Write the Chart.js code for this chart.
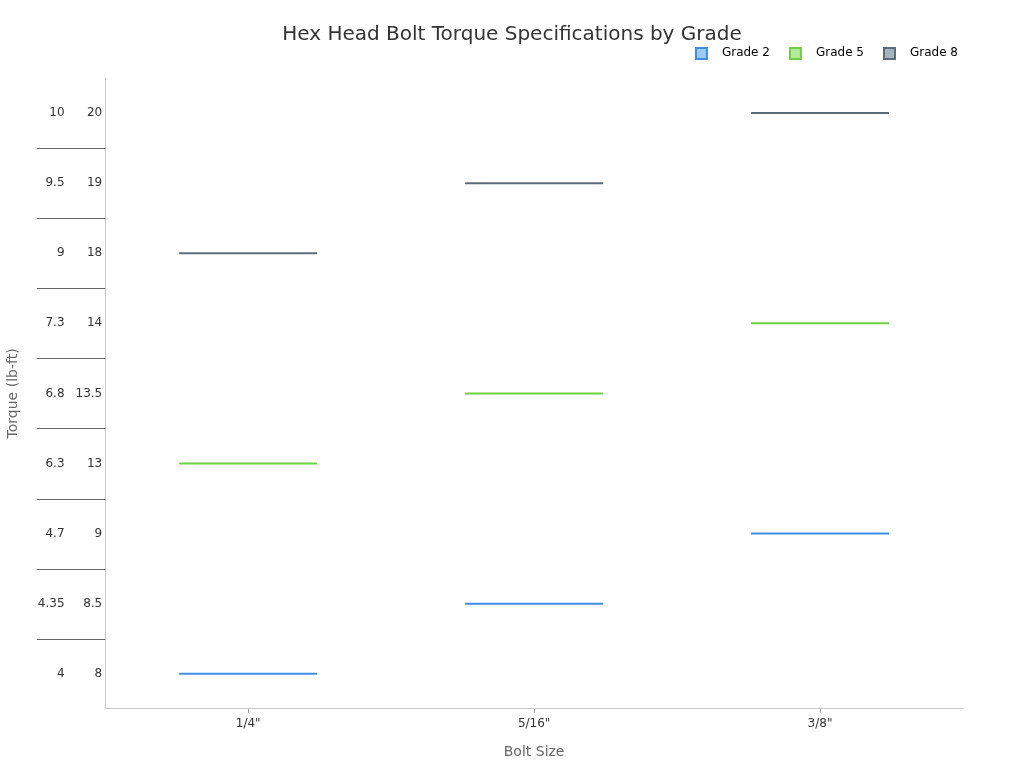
<!DOCTYPE html>
<html>
<head>
<meta charset="utf-8">
<script src="https://cdn.jsdelivr.net/npm/chart.js"></script>
<style>
  html, body { margin: 0; padding: 0; background: #fff; }
  #wrap { width: 1024px; height: 768px; }
</style>
</head>
<body>
<div id="wrap"><canvas id="chart"></canvas></div>
<script>
const boltSizes = ['1/4"', '5/16"', '3/8"'];
const gradeNames = ['Grade 2', 'Grade 5', 'Grade 8'];

// torque, lb-ft (inner column of the y axis)
const grade2 = [8, 8.5, 9];
const grade5 = [13, 13.5, 14];
const grade8 = [18, 19, 20];

// paired values shown in the outer column
const grade2Alt = [4, 4.35, 4.7];
const grade5Alt = [6.3, 6.8, 7.3];
const grade8Alt = [9, 9.5, 10];

const yLabels = [...grade2, ...grade5, ...grade8].map(String);
const yAltLabels = [...grade2Alt, ...grade5Alt, ...grade8Alt].map(String);

const lineColors = ['#3d8fe3', '#6fd13f', '#5b6b7a'];
const boxColors = ['#9ccbf6', '#b4e89c', '#a7b3bb'];

const series = [grade2, grade5, grade8];
const FONT = 'DejaVu Sans';

const datasets = series.map((vals, i) => ({
    label: gradeNames[i],
    data: vals.map((v, j) => ({ x: boltSizes[j], y: String(v) })),
    showLine: false,
    pointStyle: 'line',
    pointRadius: 69,
    pointHoverRadius: 69,
    borderColor: lineColors[i],
    backgroundColor: boxColors[i],
    pointBorderWidth: 2,
    pointHoverBorderWidth: 2
}));

// legend swatch: square with some blank room around it
function legendBox(fill, stroke) {
    const c = document.createElement('canvas');
    c.width = 35;
    c.height = 14;
    const g = c.getContext('2d');
    g.fillStyle = fill;
    g.strokeStyle = stroke;
    g.lineWidth = 2;
    g.fillRect(15, 2, 11, 11);
    g.strokeRect(15, 2, 11, 11);
    return c;
}

// short separator lines between the y categories
const separators = {
    id: 'separators',
    afterInit(chart) {
        // a bit more room under the legend
        const fit = chart.legend.fit;
        chart.legend.fit = function () {
            fit.call(this);
            this.height += 9;
        };
    },
    afterLayout(chart) {
        // title centred on the whole canvas
        chart.titleBlock.left = 0;
        chart.titleBlock.right = chart.width;
    },
    afterDraw(chart) {
        const y = chart.scales.y;
        const y2 = chart.scales.y2;
        const ctx = chart.ctx;
        ctx.save();
        ctx.font = '12px "' + FONT + '"';
        const widest = Math.max(...yAltLabels.map(t => ctx.measureText(t).width));
        const x0 = y2.right - y2.options.ticks.padding - widest - 1;
        ctx.strokeStyle = '#666';
        ctx.lineWidth = 1;
        for (let i = 0; i < yLabels.length - 1; i++) {
            const py = Math.round((y.getPixelForValue(i) + y.getPixelForValue(i + 1)) / 2) + 0.5;
            ctx.beginPath();
            ctx.moveTo(x0, py);
            ctx.lineTo(chart.chartArea.left, py);
            ctx.stroke();
        }
        ctx.restore();
    }
};

new Chart(document.getElementById('chart'), {
    type: 'line',
    data: { labels: boltSizes, datasets: datasets },
    plugins: [separators],
    options: {
        responsive: true,
        maintainAspectRatio: false,
        animation: false,
        layout: { autoPadding: false, padding: { left: 7, right: 61, top: 23, bottom: 3 } },
        plugins: {
            title: {
                display: true,
                text: 'Hex Head Bolt Torque Specifications by Grade',
                color: '#333',
                font: { family: FONT, size: 20, weight: 'normal' },
                padding: { top: 0, bottom: -5 }
            },
            legend: {
                position: 'top',
                align: 'end',
                labels: {
                    color: '#333',
                    font: { family: FONT, size: 12 },
                    usePointStyle: true,
                    pointStyleWidth: 35,
                    boxHeight: 12,
                    padding: 5,
                    generateLabels(chart) {
                        return chart.data.datasets.map((ds, i) => ({
                            text: ds.label,
                            pointStyle: legendBox(boxColors[i], lineColors[i]),
                            fillStyle: boxColors[i],
                            strokeStyle: lineColors[i],
                            lineWidth: 0,
                            datasetIndex: i,
                            hidden: !chart.isDatasetVisible(i)
                        }));
                    }
                }
            },
            tooltip: { enabled: false }
        },
        scales: {
            x: {
                type: 'category',
                offset: true,
                grid: { drawOnChartArea: false, color: '#999', tickLength: 4 },
                border: { color: '#ccc' },
                ticks: { color: '#333', font: { family: FONT, size: 12 }, padding: 4 },
                title: {
                    display: true, text: 'Bolt Size', color: '#666',
                    font: { family: FONT, size: 14 }, padding: { top: 9 }
                }
            },
            y: {
                type: 'category',
                position: 'left',
                labels: yLabels,
                reverse: true,
                offset: true,
                weight: 0,
                grid: { display: true, drawOnChartArea: false, drawTicks: false },
                border: { display: true, color: '#ccc' },
                ticks: { color: '#333', font: { family: FONT, size: 12 }, padding: 3 }
            },
            y2: {
                type: 'category',
                position: 'left',
                labels: yAltLabels,
                reverse: true,
                offset: true,
                weight: 1,
                grid: { display: false, drawTicks: false },
                border: { display: false },
                ticks: { color: '#333', font: { family: FONT, size: 12 }, padding: 8 },
                title: {
                    display: true, text: 'Torque (lb-ft)', color: '#666',
                    font: { family: FONT, size: 14 }, padding: { top: -2, bottom: 8 }
                }
            }
        }
    }
});
</script>
</body>
</html>
